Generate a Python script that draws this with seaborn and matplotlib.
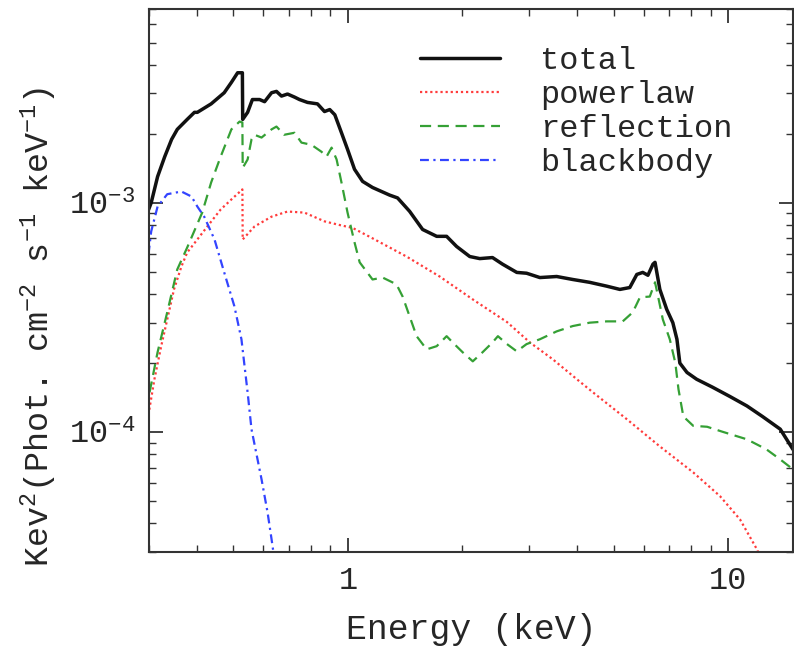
import numpy as np
import pandas as pd
import matplotlib
matplotlib.use("Agg")
import matplotlib.pyplot as plt
import seaborn as sns
from matplotlib.ticker import LogLocator, NullFormatter, FixedLocator, FixedFormatter

# ---------------- data ----------------
total_E = [0.299, 0.304, 0.316, 0.330, 0.344, 0.356, 0.378, 0.395, 0.402, 0.437, 0.473,
           0.494, 0.513, 0.528, 0.529, 0.545, 0.561, 0.586, 0.604, 0.630, 0.649, 0.669,
           0.694, 0.724, 0.746, 0.783, 0.832, 0.868, 0.896, 0.924, 0.962, 0.998, 1.041,
           1.093, 1.161, 1.288, 1.351, 1.453, 1.572, 1.712, 1.818, 1.931, 2.091, 2.222,
           2.40, 2.55, 2.78, 2.95, 3.197, 3.54, 3.90, 4.32, 4.79, 5.19, 5.51, 5.75, 5.96,
           6.15, 6.34, 6.42, 6.61, 6.89, 7.15, 7.33, 7.46, 7.79, 8.26, 9.09, 10.1, 11.2,
           12.3, 13.7, 14.8]
total_F = [0.93e-3, 1.00e-3, 1.30e-3, 1.59e-3, 1.89e-3, 2.09e-3, 2.31e-3, 2.48e-3, 2.48e-3,
           2.70e-3, 3.02e-3, 3.35e-3, 3.69e-3, 3.69e-3, 2.31e-3, 2.48e-3, 2.82e-3, 2.82e-3,
           2.76e-3, 3.02e-3, 3.06e-3, 2.92e-3, 2.98e-3, 2.89e-3, 2.82e-3, 2.74e-3, 2.70e-3,
           2.50e-3, 2.55e-3, 2.42e-3, 2.02e-3, 1.71e-3, 1.40e-3, 1.24e-3, 1.166e-3, 1.08e-3,
           1.05e-3, 0.918e-3, 0.765e-3, 0.714e-3, 0.714e-3, 0.645e-3, 0.583e-3, 0.571e-3,
           0.577e-3, 0.54e-3, 0.497e-3, 0.493e-3, 0.472e-3, 0.477e-3, 0.463e-3, 0.45e-3,
           0.433e-3, 0.419e-3, 0.427e-3, 0.487e-3, 0.497e-3, 0.483e-3, 0.54e-3, 0.55e-3,
           0.419e-3, 0.343e-3, 0.300e-3, 0.254e-3, 0.200e-3, 0.182e-3, 0.170e-3, 0.157e-3,
           0.143e-3, 0.130e-3, 0.117e-3, 0.103e-3, 0.084e-3]

powerlaw_E = [0.299, 0.310, 0.323, 0.335, 0.349, 0.365, 0.378, 0.402, 0.427, 0.463, 0.494,
              0.528, 0.529, 0.568, 0.630, 0.694, 0.769, 0.868, 0.951, 1.029, 1.161, 1.426,
              1.743, 2.13, 2.62, 3.01, 3.46, 4.00, 4.41, 5.42, 6.61, 8.09, 9.51, 10.74, 11.9, 12.3]
powerlaw_F = [0.119e-3, 0.170e-3, 0.237e-3, 0.310e-3, 0.419e-3, 0.527e-3, 0.607e-3, 0.692e-3,
              0.788e-3, 0.935e-3, 1.034e-3, 1.144e-3, 0.692e-3, 0.788e-3, 0.87e-3, 0.916e-3,
              0.906e-3, 0.83e-3, 0.80e-3, 0.777e-3, 0.70e-3, 0.583e-3, 0.477e-3, 0.379e-3,
              0.302e-3, 0.246e-3, 0.2075e-3, 0.170e-3, 0.149e-3, 0.1136e-3, 0.0866e-3,
              0.0667e-3, 0.0526e-3, 0.0416e-3, 0.0308e-3, 0.027e-3]

reflection_E = [0.301, 0.316, 0.335, 0.356, 0.378, 0.414, 0.437, 0.463, 0.494, 0.519, 0.528,
                0.529, 0.545, 0.558, 0.568, 0.593, 0.630, 0.649, 0.680, 0.724, 0.755, 0.802,
                0.852, 0.879, 0.906, 0.934, 0.962, 0.998, 1.041, 1.074, 1.161, 1.234, 1.342,
                1.393, 1.516, 1.611, 1.712, 1.818, 1.886, 2.003, 2.13, 2.26, 2.40, 2.48, 2.62,
                2.78, 2.95, 3.197, 3.54, 3.90, 4.32, 4.79, 5.28, 5.61, 5.86, 6.22, 6.42, 6.54,
                6.73, 7.02, 7.26, 7.40, 7.62, 8.09, 8.80, 9.63, 11.2, 12.6, 13.7, 14.8]
reflection_F = [0.149e-3, 0.223e-3, 0.333e-3, 0.512e-3, 0.638e-3, 0.906e-3, 1.226e-3, 1.59e-3,
                2.09e-3, 2.26e-3, 2.24e-3, 1.42e-3, 1.545e-3, 1.89e-3, 1.98e-3, 1.925e-3,
                2.09e-3, 2.15e-3, 1.98e-3, 2.02e-3, 1.83e-3, 1.79e-3, 1.67e-3, 1.59e-3,
                1.74e-3, 1.545e-3, 1.226e-3, 0.906e-3, 0.672e-3, 0.55e-3, 0.463e-3, 0.472e-3,
                0.441e-3, 0.39e-3, 0.262e-3, 0.2295e-3, 0.237e-3, 0.262e-3, 0.246e-3, 0.223e-3,
                0.2035e-3, 0.223e-3, 0.246e-3, 0.262e-3, 0.242e-3, 0.225e-3, 0.242e-3, 0.254e-3,
                0.275e-3, 0.290e-3, 0.30e-3, 0.304e-3, 0.304e-3, 0.333e-3, 0.387e-3, 0.39e-3,
                0.45e-3, 0.39e-3, 0.31e-3, 0.254e-3, 0.200e-3, 0.1536e-3, 0.117e-3, 0.1065e-3,
                0.1055e-3, 0.1005e-3, 0.093e-3, 0.0841e-3, 0.076e-3, 0.0688e-3]

blackbody_E = [0.299, 0.304, 0.316, 0.335, 0.365, 0.388, 0.402, 0.419, 0.446, 0.473, 0.503,
               0.525, 0.535, 0.545, 0.558, 0.593, 0.615, 0.630, 0.641]
blackbody_F = [0.595e-3, 0.75e-3, 0.963e-3, 1.09e-3, 1.12e-3, 1.065e-3, 0.963e-3, 0.87e-3,
               0.692e-3, 0.497e-3, 0.354e-3, 0.254e-3, 0.194e-3, 0.149e-3, 0.1028e-3,
               0.0622e-3, 0.0446e-3, 0.0341e-3, 0.0279e-3]

labels = ["total", "powerlaw", "reflection", "blackbody"]
x_ticks = [1, 10]
x_ticklabels = ["1", "10"]
y_ticks = [1e-4, 1e-3]
y_ticklabels = [r"$10^{-4}$", r"$10^{-3}$"]

# ---------------- style ----------------
sns.set_style("ticks")
plt.rcParams["font.family"] = ["Liberation Mono", "DejaVu Sans Mono"]
plt.rcParams["mathtext.fontset"] = "custom"
plt.rcParams["mathtext.rm"] = "Liberation Mono"
plt.rcParams["mathtext.it"] = "Liberation Mono"
plt.rcParams["mathtext.bf"] = "Liberation Mono"

fig = plt.figure(figsize=(7.94, 6.47), dpi=100)
ax = fig.add_axes([149 / 794, 1 - 552 / 647, (793 - 149) / 794, (552 - 9) / 647])

frames = []
for name, E, F in [("total", total_E, total_F), ("powerlaw", powerlaw_E, powerlaw_F),
                   ("reflection", reflection_E, reflection_F),
                   ("blackbody", blackbody_E, blackbody_F)]:
    frames.append(pd.DataFrame({"E": E, "F": F, "comp": name}))
df = pd.concat(frames, ignore_index=True)

styles = {
    "total": dict(color="#111111", lw=2.5, ls="-"),
    "powerlaw": dict(color="#ff3b3b", lw=1.6, ls=(0, (1, 1.3))),
    "reflection": dict(color="#35a035", lw=1.6, ls=(0, (5, 3))),
    "blackbody": dict(color="#3344ff", lw=1.6, ls=(0, (4, 2, 1, 2))),
}
for name in labels:
    sub = df[df["comp"] == name]
    sns.lineplot(data=sub, x="E", y="F", ax=ax, sort=False, estimator=None,
                 color=styles[name]["color"], lw=styles[name]["lw"],
                 linestyle=styles[name]["ls"], label=name)

ax.set_xscale("log")
ax.set_yscale("log")
ax.set_xlim(0.3, 14.8)
ax.set_ylim(3.0e-5, 7.0e-3)

ax.xaxis.set_major_locator(FixedLocator(x_ticks))
ax.xaxis.set_major_formatter(FixedFormatter(x_ticklabels))
ax.xaxis.set_minor_locator(LogLocator(base=10, subs=np.arange(2, 10)))
ax.xaxis.set_minor_formatter(NullFormatter())
ax.yaxis.set_major_locator(FixedLocator(y_ticks))
ax.yaxis.set_major_formatter(FixedFormatter(y_ticklabels))
ax.yaxis.set_minor_locator(LogLocator(base=10, subs=np.arange(2, 10)))
ax.yaxis.set_minor_formatter(NullFormatter())

ax.tick_params(which="both", direction="in", top=True, right=True, color="#333333")
ax.tick_params(which="major", length=10, width=1.3, labelsize=23, pad=10)
ax.tick_params(which="minor", length=5, width=1.0)
for s in ax.spines.values():
    s.set_color("#333333")
    s.set_linewidth(1.5)

ax.set_xlabel("Energy (keV)", fontsize=25, labelpad=12)
ax.set_ylabel(r"Kev$^2$(Phot. cm$^{-2}$ s$^{-1}$ keV$^{-1}$)", fontsize=24)
ax.yaxis.set_label_coords(-0.14, 0.415)

leg = ax.legend(loc="upper left", bbox_to_anchor=((420 - 149) / 644, 1 - (46 - 9) / 543),
                frameon=False, borderpad=0, borderaxespad=0,
                fontsize=23, handlelength=2.5, handletextpad=1.25, labelspacing=0.13)

fig.savefig("out.png", dpi=100)
